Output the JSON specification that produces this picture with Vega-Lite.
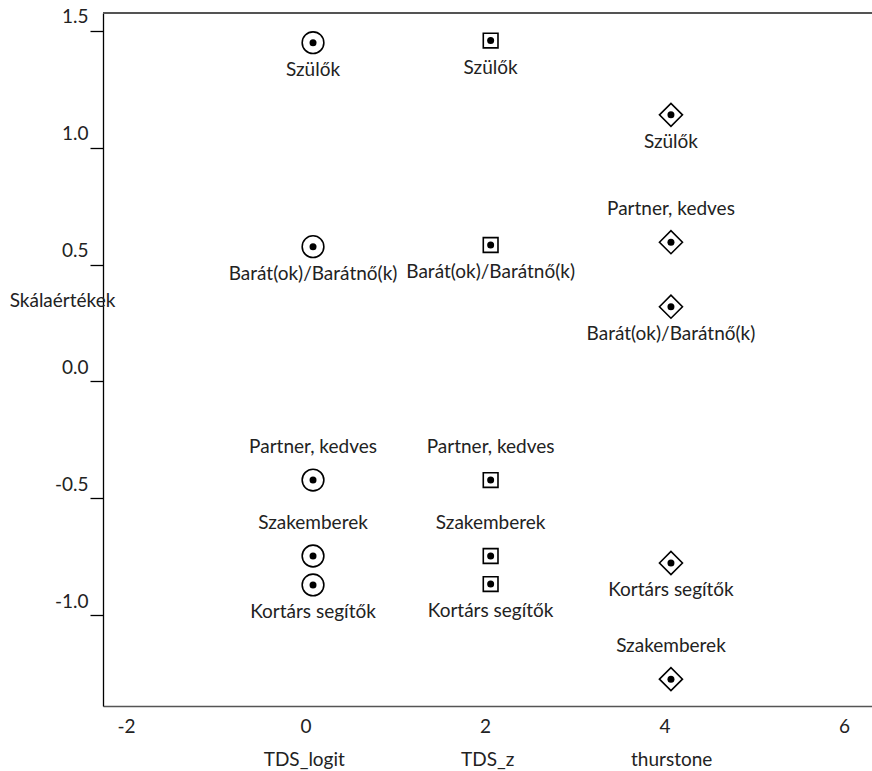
{
  "$schema": "https://vega.github.io/schema/vega-lite/v6.json",
  "width": 769,
  "height": 693,
  "autosize": {"type": "none"},
  "padding": {"left": 103, "top": 13, "right": 0, "bottom": 65},
  "background": "white",
  "config": {
    "view": {"stroke": null},
    "font": "Lato",
    "axis": {"labelFont": "Lato", "titleFont": "Lato", "labelColor": "#222", "titleColor": "#222", "grid": false, "titleFontWeight": "normal", "labelFontSize": 19, "titleFontSize": 19}
  },
  "data": {
    "values": [
      {"series": "TDS_logit", "label": "Szülők", "x": 0.084, "y": 1.450, "pos": "below"},
      {"series": "TDS_logit", "label": "Barát(ok)/Barátnő(k)", "x": 0.084, "y": 0.577, "pos": "below"},
      {"series": "TDS_logit", "label": "Partner, kedves", "x": 0.084, "y": -0.422, "pos": "above"},
      {"series": "TDS_logit", "label": "Szakemberek", "x": 0.084, "y": -0.747, "pos": "above"},
      {"series": "TDS_logit", "label": "Kortárs segítők", "x": 0.084, "y": -0.871, "pos": "below"},
      {"series": "TDS_z", "label": "Szülők", "x": 2.063, "y": 1.459, "pos": "below"},
      {"series": "TDS_z", "label": "Barát(ok)/Barátnő(k)", "x": 2.063, "y": 0.584, "pos": "below"},
      {"series": "TDS_z", "label": "Partner, kedves", "x": 2.063, "y": -0.422, "pos": "above"},
      {"series": "TDS_z", "label": "Szakemberek", "x": 2.063, "y": -0.747, "pos": "above"},
      {"series": "TDS_z", "label": "Kortárs segítők", "x": 2.063, "y": -0.867, "pos": "below"},
      {"series": "thurstone", "label": "Szülők", "x": 4.072, "y": 1.141, "pos": "below"},
      {"series": "thurstone", "label": "Partner, kedves", "x": 4.072, "y": 0.596, "pos": "above"},
      {"series": "thurstone", "label": "Barát(ok)/Barátnő(k)", "x": 4.072, "y": 0.320, "pos": "below"},
      {"series": "thurstone", "label": "Kortárs segítők", "x": 4.072, "y": -0.777, "pos": "below"},
      {"series": "thurstone", "label": "Szakemberek", "x": 4.072, "y": -1.274, "pos": "above"}
    ]
  },
  "encoding": {
    "x": {
      "field": "x", "type": "quantitative",
      "scale": {"domain": [-2.256, 6.312], "nice": false, "zero": false},
      "axis": {
        "values": [-2, 0, 2, 4, 6],
        "labelExpr": "replace(format(datum.value, 'd'), '\u2212', '-')",
        "ticks": false,
        "domainColor": "#555",
        "domainWidth": 1.5,
        "labelPadding": 11,
        "labelFlush": false,
        "title": "TDS_logit\u00a0\u00a0\u00a0\u00a0\u00a0\u00a0\u00a0\u00a0\u00a0\u00a0\u00a0\u00a0\u00a0\u00a0\u00a0\u00a0\u00a0\u00a0\u00a0\u00a0\u00a0\u00a0\u00a0\u00a0TDS_z\u00a0\u00a0\u00a0\u00a0\u00a0\u00a0\u00a0\u00a0\u00a0\u00a0\u00a0\u00a0\u00a0\u00a0\u00a0\u00a0\u00a0\u00a0\u00a0\u00a0\u00a0\u00a0\u00a0\u00a0thurstone",
        "titlePadding": 14
      }
    },
    "y": {
      "field": "y", "type": "quantitative",
      "scale": {"domain": [-1.389, 1.577], "nice": false, "zero": false},
      "axis": {
        "values": [-1, -0.5, 0, 0.5, 1, 1.5],
        "labelExpr": "replace(format(datum.value, '.1f'), '\u2212', '-')",
        "domainColor": "black",
        "domainWidth": 1.3,
        "tickColor": "black",
        "tickWidth": 1.3,
        "tickSize": 13,
        "labelPadding": 2,
        "labelBaseline": "alphabetic",
        "labelOffset": -8,
        "labelFlush": false,
        "title": "Skálaértékek",
        "titleAngle": 0,
        "titleAlign": "center",
        "titleBaseline": "middle",
        "titleX": -41,
        "titleY": 287
      }
    }
  },
  "layer": [
    {
      "mark": {"type": "rule", "color": "#555", "strokeWidth": 1.5},
      "encoding": {"y": {"datum": 1.577}, "x": null}
    },
    {
      "mark": {"type": "point", "filled": false, "color": "black", "strokeWidth": 1.6, "opacity": 1},
      "encoding": {
        "shape": {"field": "series", "type": "nominal", "scale": {"domain": ["TDS_logit", "TDS_z", "thurstone"], "range": ["circle", "square", "diamond"]}, "legend": null},
        "size": {"field": "series", "type": "nominal", "scale": {"type": "ordinal", "domain": ["TDS_logit", "TDS_z", "thurstone"], "range": [470, 216, 530]}, "legend": null}
      }
    },
    {
      "mark": {"type": "circle", "color": "black", "size": 49, "opacity": 1}
    },
    {
      "transform": [{"filter": "datum.pos === 'below'"}],
      "mark": {"type": "text", "dy": 27, "fontSize": 19, "font": "Lato", "color": "#222", "baseline": "middle"},
      "encoding": {"text": {"field": "label"}}
    },
    {
      "transform": [{"filter": "datum.pos === 'above'"}],
      "mark": {"type": "text", "dy": -33, "fontSize": 19, "font": "Lato", "color": "#222", "baseline": "middle"},
      "encoding": {"text": {"field": "label"}}
    }
  ]
}
